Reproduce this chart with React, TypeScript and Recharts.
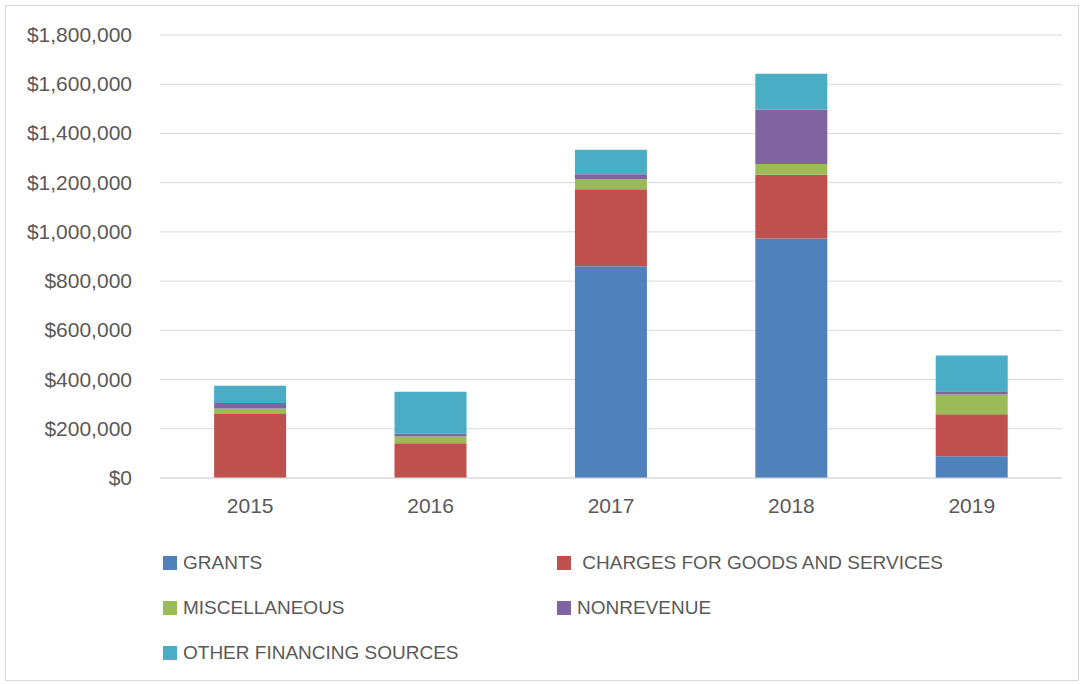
import { Bar, BarChart, CartesianGrid, XAxis, YAxis } from 'recharts'

// 年度
const YEARS = ['2015', '2016', '2017', '2018', '2019']
// 各財源（ドル）— 画像から読み取った概算値
const GRANTS = [0, 0, 860000, 973000, 88000]
const CHARGES = [260000, 141000, 313000, 259000, 171000]
const MISC = [22000, 28000, 41000, 44000, 80000]
const NONREV = [23000, 11000, 20000, 221000, 13000]
const OTHER = [70000, 170000, 100000, 146000, 146000]

const Y_TICKS = [0, 200000, 400000, 600000, 800000, 1000000, 1200000, 1400000, 1600000, 1800000]

const SERIES = [
  { key: 'grants', name: 'GRANTS', color: '#4F81BD', values: GRANTS },
  { key: 'charges', name: ' CHARGES FOR GOODS AND SERVICES', color: '#C0504D', values: CHARGES },
  { key: 'misc', name: 'MISCELLANEOUS', color: '#9BBB59', values: MISC },
  { key: 'nonrev', name: 'NONREVENUE', color: '#8064A2', values: NONREV },
  { key: 'other', name: 'OTHER FINANCING SOURCES', color: '#4BACC6', values: OTHER },
]

const data = YEARS.map((year, i) => {
  const row: Record<string, string | number> = { year }
  SERIES.forEach((s) => (row[s.key] = s.values[i]))
  return row
})

const FONT = '"Liberation Sans", Arial, sans-serif'
const TXT = '#595959'
const GRID = '#d9d9d9'
const AXIS_FS = 21

const fmt = (v: number) => '$' + v.toLocaleString('en-US')

function YTick(props: { y?: number; payload?: { value: number } }) {
  const { y = 0, payload } = props
  return (
    <text x={132} y={y} dy={7} textAnchor="end" fill={TXT} fontSize={AXIS_FS} fontFamily={FONT}>
      {payload ? fmt(payload.value) : ''}
    </text>
  )
}

export default function App() {
  return (
    <div
      style={{
        position: 'absolute',
        left: 0,
        top: 0,
        width: 1081,
        height: 684,
        background: '#fff',
        fontFamily: FONT,
      }}
    >
      {/* 外枠 */}
      <div
        style={{
          position: 'absolute',
          left: 5,
          top: 5,
          width: 1072,
          height: 674,
          border: `1px solid ${GRID}`,
        }}
      />
      <div style={{ position: 'absolute', left: 0, top: 0 }}>
        <BarChart
          width={1081}
          height={530}
          data={data}
          margin={{ top: 35, right: 19, bottom: 0, left: 0 }}
          barCategoryGap="30%"
        >
          <CartesianGrid stroke={GRID} vertical={false} />
          <XAxis
            dataKey="year"
            tickLine={false}
            axisLine={{ stroke: GRID }}
            height={52}
            tickMargin={14}
            tick={{ fill: TXT, fontSize: AXIS_FS, fontFamily: FONT }}
          />
          <YAxis
            width={160}
            domain={[0, 1800000]}
            ticks={Y_TICKS}
            tickLine={false}
            axisLine={false}
            tick={(p) => <YTick {...p} />}
          />
          {SERIES.map((s) => (
            <Bar
              key={s.key}
              dataKey={s.key}
              name={s.name}
              stackId="a"
              fill={s.color}
              isAnimationActive={false}
            />
          ))}
        </BarChart>
      </div>
      {/* 凡例 */}
      {SERIES.map((s, i) => {
        const col = i % 2
        const row = Math.floor(i / 2)
        return (
          <div
            key={s.key}
            style={{
              position: 'absolute',
              left: col === 0 ? 163 : 557,
              top: 552 + row * 45,
              height: 22,
              display: 'flex',
              alignItems: 'center',
              color: TXT,
              fontSize: 19,
              whiteSpace: 'pre',
            }}
          >
            <span style={{ width: 14, height: 14, background: s.color, marginRight: 6 }} />
            <span>{s.name}</span>
          </div>
        )
      })}
    </div>
  )
}
